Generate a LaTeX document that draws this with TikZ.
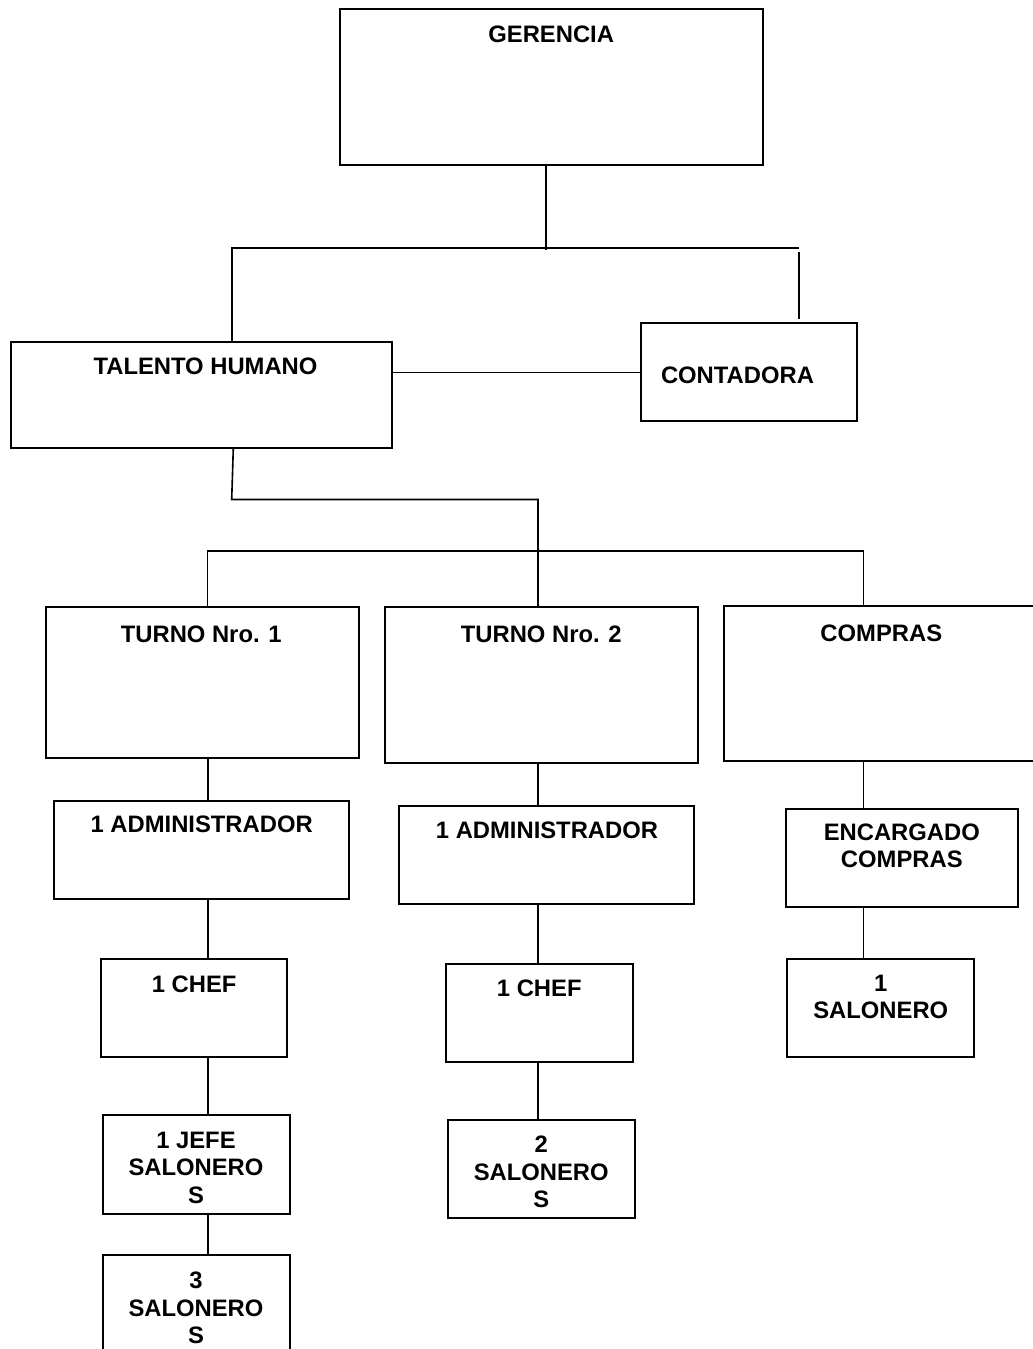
\documentclass[tikz,border=0pt]{standalone}
\usepackage{fontspec}
\setmainfont{Liberation Sans}
\begin{document}
\begin{tikzpicture}[x=1pt,y=-1pt,
  box/.style={draw=black, line width=1.9pt, inner sep=0pt, outer sep=0pt,
    anchor=north west, fill=none},
  lbl/.style={inner sep=0pt, outer sep=0pt, anchor=north, align=center,
    font=\fontsize{23.8}{27.3}\selectfont\bfseries},
  conn/.style={draw=black, line width=1.6pt}]
\clip (0,0) rectangle (1033,1349);
\fill[white] (0,0) rectangle (1033,1349);

% boxes: \boxat{name}{x1}{y1}{x2}{y2}
\newcommand\boxat[5]{%
  \pgfmathsetmacro\bw{#4-#2}\pgfmathsetmacro\bh{#5-#3}%
  \node[box, minimum width=\bw pt, minimum height=\bh pt] (#1) at (#2,#3) {};}

\boxat{g}{340}{8.7}{763}{165}
\boxat{th}{10.7}{342}{391.7}{448.3}
\boxat{ct}{640.7}{323.3}{856.7}{421.3}
\boxat{t1}{46}{607.3}{359}{758.3}
\boxat{t2}{385}{607.3}{698.3}{762.7}
\boxat{cp}{724}{605.7}{1038.6}{761}
\boxat{a1}{54}{801}{349.3}{899.3}
\boxat{a2}{399}{805.7}{694.3}{904}
\boxat{c1}{101}{959.3}{287.3}{1057}
\boxat{c2}{446}{963.7}{633}{1061.7}
\boxat{j1}{103}{1115}{289.7}{1214}
\boxat{s3}{103}{1255}{290}{1370}
\boxat{s2}{448}{1119.7}{635}{1218.3}
\boxat{en}{785.7}{809}{1017.7}{906.7}
\boxat{s1}{787.3}{959}{974.3}{1057.3}

% labels (placed by the top of the first line)
\node[lbl] (gL)  at (551.2,25.7)  {GERENCIA};
\node[lbl] (thL) at (205.5,358)   {TALENTO HUMANO};
\node[lbl] (ctL) at (737.5,367)   {CONTADORA};
\node[lbl] (t1L) at (201.3,625.7) {TURNO Nro. 1};
\node[lbl] (t2L) at (541.3,625.7) {TURNO Nro. 2};
\node[lbl] (cpL) at (881.3,624.7) {COMPRAS};
\node[lbl] (a1L) at (201.7,816.3) {1 ADMINISTRADOR};
\node[lbl] (a2L) at (547,822.3)   {1 ADMINISTRADOR};
\node[lbl] (c1L) at (194.2,975.7) {1 CHEF};
\node[lbl] (c2L) at (539.3,979.7) {1 CHEF};
\node[lbl] (j1L) at (196,1132.3)  {1 JEFE\\SALONERO\\S};
\node[lbl] (s3L) at (196,1272.3)  {3\\SALONERO\\S};
\node[lbl] (s2L) at (541.2,1136.3){2\\SALONERO\\S};
\node[lbl] (enL) at (901.8,824)   {ENCARGADO\\COMPRAS};
\node[lbl] (s1L) at (880.8,974.7) {1\\SALONERO};

% junction points of the connectors
\coordinate (gA)  at (546,250);
\coordinate (hL)  at (232,248);
\coordinate (hR)  at (799,248);
\coordinate (vR1) at (799,252);
\coordinate (vR2) at (799,319);
\coordinate (thB) at (233.3,0);
\coordinate (bA)  at (231.7,499.5);
\coordinate (bB)  at (538,499.5);
\coordinate (qL)  at (207.5,551);
\coordinate (qR)  at (863.3,551);
\coordinate (col1) at (207.7,0);
\coordinate (col2) at (538,0);
\coordinate (col3) at (863.3,0);

% upper level
\draw[conn] (g.south -| gA) -- (gA);
\draw[conn] (th.north -| hL) -- (hL) -- (hR);
\draw[conn] (vR1) -- (vR2);
\draw[conn] (th.east |- ct.west) -- (ct.west);

% from TALENTO HUMANO to the three branches
\draw[conn] (th.south -| thB) -- (bA) -- (bB) -- (t2.north -| bB);
\draw[conn] (t1.north -| qL) -- (qL) -- (qR) -- (cp.north -| qR);

% column 1
\draw[conn] (t1.south -| col1) -- (a1.north -| col1);
\draw[conn] (a1.south -| col1) -- (c1.north -| col1);
\draw[conn] (c1.south -| col1) -- (j1.north -| col1);
\draw[conn] (j1.south -| col1) -- (s3.north -| col1);

% column 2
\draw[conn] (t2.south -| col2) -- (a2.north -| col2);
\draw[conn] (a2.south -| col2) -- (c2.north -| col2);
\draw[conn] (c2.south -| col2) -- (s2.north -| col2);

% column 3
\draw[conn] (cp.south -| col3) -- (en.north -| col3);
\draw[conn] (en.south -| col3) -- (s1.north -| col3);
\end{tikzpicture}
\end{document}
